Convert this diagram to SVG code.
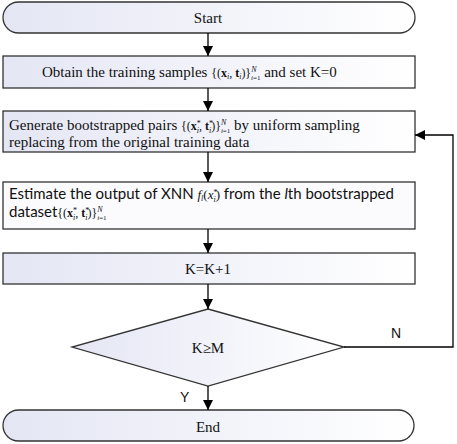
<svg xmlns="http://www.w3.org/2000/svg" width="457" height="444" viewBox="0 0 457 444">
<defs>
<linearGradient id="g" x1="0" y1="0" x2="1" y2="0">
<stop offset="0" stop-color="#e4e6f4"/>
<stop offset="1" stop-color="#ffffff"/>
</linearGradient>
<marker id="ah" viewBox="0 0 10 10" refX="10" refY="5" markerWidth="10" markerHeight="10" markerUnits="userSpaceOnUse" orient="auto">
<path d="M0,0 L10,5 L0,10 z" fill="#000"/>
</marker>
</defs>
<rect width="457" height="444" fill="#fff"/>
<g id="start">
<rect fill="url(#g)" stroke="#333" stroke-width="1.3" x="3" y="2" width="412" height="31" rx="15.5"/>
<text font-size="15" fill="#111" font-family="Times New Roman" x="208" y="23" text-anchor="middle">Start</text>
</g>
<g id="obtain">
<rect fill="url(#g)" stroke="#333" stroke-width="1.3" x="3" y="56" width="412" height="32"/>
<text font-size="15" fill="#111" font-family="Times New Roman" x="42" y="77">Obtain the training samples <tspan font-family="Times New Roman" font-size="12">{(<tspan font-weight="bold">x</tspan><tspan font-style="italic" font-size="8" dy="2">i</tspan><tspan dy="-2">, </tspan><tspan font-weight="bold">t</tspan><tspan font-style="italic" font-size="8" dy="2">i</tspan><tspan dy="-2">)}</tspan><tspan font-style="italic" font-size="8" dy="-5">N</tspan><tspan font-size="7" dx="-5.5" dy="8"><tspan font-style="italic">i</tspan>=1</tspan></tspan><tspan font-family="Times New Roman" dy="-3"> and set K=0</tspan></text>
</g>
<g id="generate">
<rect fill="url(#g)" stroke="#333" stroke-width="1.3" x="3" y="111" width="412" height="41"/>
<text font-size="15" fill="#111" font-family="Times New Roman" x="9" y="130">Generate bootstrapped pairs <tspan font-family="Times New Roman" font-size="12">{(<tspan font-weight="bold">x</tspan><tspan font-size="8" dy="-4">*</tspan><tspan font-style="italic" font-size="8" dx="-4" dy="7">i</tspan><tspan dy="-3">, </tspan><tspan font-weight="bold">t</tspan><tspan font-size="8" dy="-4">*</tspan><tspan font-style="italic" font-size="8" dx="-4" dy="7">i</tspan><tspan dy="-3">)}</tspan><tspan font-style="italic" font-size="8" dy="-5">N</tspan><tspan font-size="7" dx="-5.5" dy="8"><tspan font-style="italic">i</tspan>=1</tspan></tspan><tspan font-family="Times New Roman" dy="-3">  by uniform sampling</tspan></text>
<text font-size="15" fill="#111" font-family="Times New Roman" x="9" y="147">replacing from the original training data</text>
</g>
<g id="estimate">
<rect fill="#fbfbfd" stroke="#333" stroke-width="1.3" x="3" y="182" width="412" height="47"/>
<text font-size="15" fill="#111" font-family="Lato" x="9" y="199">Estimate the output of XNN <tspan font-family="Times New Roman" font-style="italic" font-size="13">f<tspan font-size="8" dy="2">l</tspan><tspan dy="-2" font-style="normal">(</tspan>x<tspan font-size="8" font-style="normal" dy="-4">*</tspan><tspan font-size="8" dx="-4" dy="7">i</tspan><tspan dy="-3" font-style="normal">)</tspan></tspan> from the <tspan font-style="italic">l</tspan>th bootstrapped</text>
<text font-size="15" fill="#111" font-family="Lato" x="9" y="217">dataset<tspan font-family="Times New Roman" font-size="12">{(<tspan font-weight="bold">x</tspan><tspan font-size="8" dy="-4">*</tspan><tspan font-style="italic" font-size="8" dx="-4" dy="7">i</tspan><tspan dy="-3">, </tspan><tspan font-weight="bold">t</tspan><tspan font-size="8" dy="-4">*</tspan><tspan font-style="italic" font-size="8" dx="-4" dy="7">i</tspan><tspan dy="-3">)}</tspan><tspan font-style="italic" font-size="8" dy="-5">N</tspan><tspan font-size="7" dx="-5.5" dy="8"><tspan font-style="italic">i</tspan>=1</tspan></tspan></text>
</g>
<g id="increment">
<rect fill="url(#g)" stroke="#333" stroke-width="1.3" x="3" y="253" width="412" height="31"/>
<text font-size="15" fill="#111" font-family="Times New Roman" x="208" y="274" text-anchor="middle">K=K+1</text>
</g>
<g id="decision">
<polygon fill="url(#g)" stroke="#333" stroke-width="1.3" points="208,309 344,347 208,386 72,347"/>
<text font-size="15" fill="#111" font-family="Times New Roman" x="208" y="353" text-anchor="middle">K≥M</text>
</g>
<g id="end">
<rect fill="url(#g)" stroke="#333" stroke-width="1.3" x="3" y="410" width="411" height="31" rx="15.5"/>
<text font-size="15" fill="#111" font-family="Times New Roman" x="208" y="432" text-anchor="middle">End</text>
</g>
<g id="connectors" stroke="#000" stroke-width="1.3" fill="none" marker-end="url(#ah)">
<line x1="208" y1="33" x2="208" y2="56"/>
<line x1="208" y1="88" x2="208" y2="111"/>
<line x1="208" y1="152" x2="208" y2="182"/>
<line x1="208" y1="229" x2="208" y2="253"/>
<line x1="208" y1="284" x2="208" y2="309"/>
<line x1="208" y1="386" x2="208" y2="410"/>
<polyline points="344,347 453,347 453,135 415,135"/>
</g>
<g id="labels">
<text font-size="14" fill="#111" font-family="Liberation Sans" x="391" y="338">N</text>
<text font-size="14" fill="#111" font-family="Liberation Sans" x="180" y="402">Y</text>
</g>
</svg>
